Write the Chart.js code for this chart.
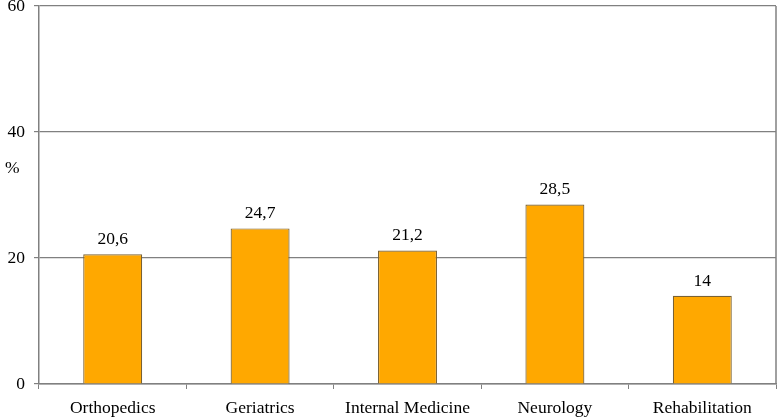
<!DOCTYPE html>
<html>
<head>
<meta charset="utf-8">
<script src="https://cdn.jsdelivr.net/npm/chart.js@4/dist/chart.umd.min.js"></script>
<style>
  html, body { margin: 0; padding: 0; background: #fff; }
  #wrap { width: 778px; height: 417px; }
</style>
</head>
<body>
<div id="wrap"><canvas id="chart"></canvas></div>
<script>
// --- data ---
const categories = ['Orthopedics', 'Geriatrics', 'Internal Medicine', 'Neurology', 'Rehabilitation'];
const values = [20.6, 24.7, 21.2, 28.5, 14];
const valueLabels = ['20,6', '24,7', '21,2', '28,5', '14'];
const yTicks = [0, 20, 40, 60];

const serif = '"Liberation Serif", "DejaVu Serif", serif';
const gridColor = '#808080';
const fontSize = 17.5;

// value labels above bars, "%" axis label, right frame line
const extras = {
    id: 'extras',
    afterDatasetsDraw(chart) {
        const ctx = chart.ctx;
        const area = chart.chartArea;
        ctx.save();
        ctx.font = fontSize + 'px ' + serif;
        ctx.fillStyle = '#000';
        ctx.textAlign = 'center';
        ctx.textBaseline = 'bottom';
        chart.getDatasetMeta(0).data.forEach((bar, i) => {
            ctx.fillText(valueLabels[i], bar.x, bar.y - 6);
        });
        ctx.textAlign = 'left';
        ctx.textBaseline = 'middle';
        ctx.fillText('%', 5, area.top + (area.bottom - area.top) * 0.43);
        ctx.strokeStyle = gridColor;
        ctx.lineWidth = 1.5;
        ctx.beginPath();
        ctx.moveTo(area.right, area.top);
        ctx.lineTo(area.right, area.bottom);
        ctx.stroke();
        ctx.restore();
    }
};

new Chart(document.getElementById('chart'), {
    type: 'bar',
    data: {
        labels: categories,
        datasets: [{
            data: values,
            backgroundColor: '#ffa800',
            borderColor: '#7a6233',
            borderWidth: 1.2,
            categoryPercentage: 1,
            barPercentage: 0.4
        }]
    },
    options: {
        responsive: true,
        maintainAspectRatio: false,
        animation: false,
        layout: { padding: { top: 6, right: 2, left: 0, bottom: 0 } },
        plugins: { legend: { display: false }, tooltip: { enabled: false } },
        scales: {
            x: {
                grid: { drawOnChartArea: false, drawTicks: true, tickLength: 5, color: gridColor, offset: true },
                border: { color: gridColor, width: 1.5 },
                ticks: { color: '#000', font: { family: serif, size: fontSize }, padding: 9, maxRotation: 0 },
                afterFit(scale) { scale.height = 33; scale.paddingLeft = 0; scale.paddingRight = 0; }
            },
            y: {
                min: 0,
                max: 60,
                afterBuildTicks(scale) { scale.ticks = yTicks.map(v => ({ value: v })); },
                grid: { color: gridColor, lineWidth: 1.2, tickLength: 5 },
                border: { color: gridColor, width: 1.5 },
                ticks: { color: '#000', font: { family: serif, size: fontSize }, padding: 9 },
                afterFit(scale) { scale.width = 39; scale.paddingTop = 0; scale.paddingBottom = 0; }
            }
        }
    },
    plugins: [extras]
});
</script>
</body>
</html>
